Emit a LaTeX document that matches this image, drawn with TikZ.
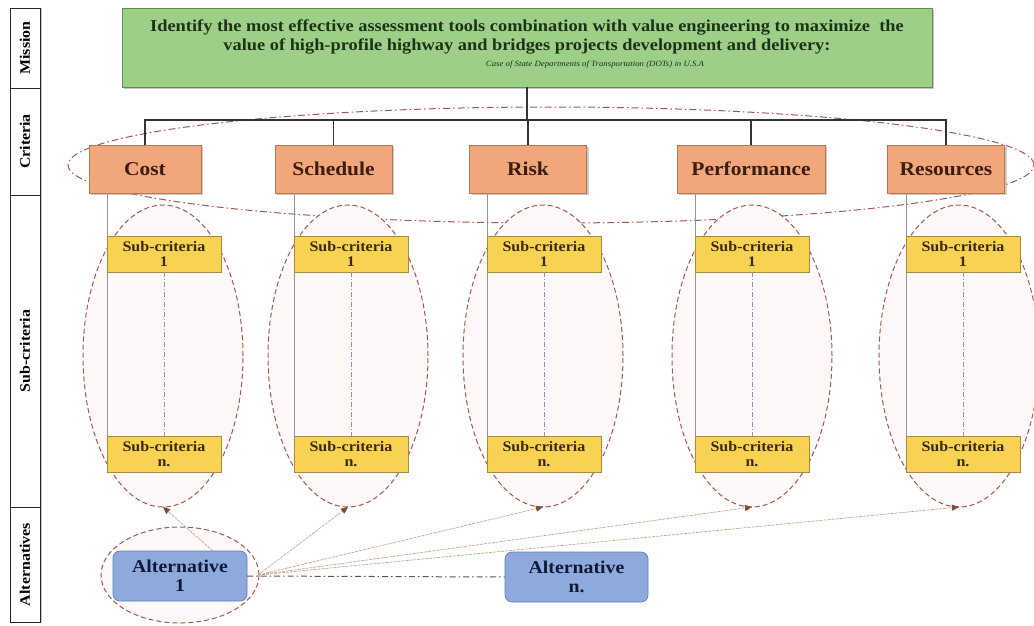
\documentclass[tikz,border=0pt]{standalone}
\usepackage{fontspec}
\setmainfont{Liberation Serif}[FakeStretch=1.1]
\usetikzlibrary{shadows,arrows.meta,shapes.geometric}

\definecolor{missionfill}{HTML}{9DCF89}
\definecolor{missionedge}{HTML}{5F8F4B}
\definecolor{missiontext}{HTML}{1C3314}
\definecolor{critfill}{HTML}{F2A67B}
\definecolor{critedge}{HTML}{B7774F}
\definecolor{crittext}{HTML}{3A1E10}
\definecolor{subfill}{HTML}{F8D353}
\definecolor{subedge}{HTML}{A88B3C}
\definecolor{subtext}{HTML}{3A2A05}
\definecolor{altfill}{HTML}{8EAADC}
\definecolor{altedge}{HTML}{5E7FB5}
\definecolor{alttext}{HTML}{0E1A38}
\definecolor{ringcol}{HTML}{A5574C}
\definecolor{ringfill}{HTML}{FFF8F8}
\definecolor{guidecol}{HTML}{8C94AA}
\definecolor{linkcol}{HTML}{C9A58E}
\definecolor{tipcol}{HTML}{7A4A32}

\begin{document}
\begin{tikzpicture}[x=1pt,y=-1pt,
  every node/.style={inner sep=0pt,outer sep=0pt},
  bandbox/.style={draw=black!85,line width=0.7pt,minimum width=30pt,fill=white,
    drop shadow={shadow xshift=1.5pt,shadow yshift=0pt,fill=black!45}},
  bandtext/.style={rotate=90,font=\fontsize{14.5}{16}\selectfont\bfseries},
  missionbox/.style={draw=missionedge,line width=0.8pt,fill=missionfill,
    minimum width=810pt,minimum height=79pt,
    drop shadow={shadow xshift=2pt,shadow yshift=-2pt,fill=black!45}},
  missionline/.style={anchor=base,text=missiontext,font=\fontsize{16.7}{18}\selectfont\bfseries},
  crit/.style={draw=critedge,line width=0.7pt,fill=critfill,minimum height=48pt,
    text=crittext,font=\fontsize{19.5}{22}\selectfont\bfseries,
    drop shadow={shadow xshift=2pt,shadow yshift=-2pt,fill=black!40}},
  sub/.style={draw=subedge,line width=0.6pt,fill=subfill,minimum width=114pt,
    minimum height=36pt,align=center,text=subtext,
    font=\fontsize{14.6}{15.5}\selectfont\bfseries,
    drop shadow={shadow xshift=1pt,shadow yshift=-1pt,fill=black!30}},
  alt/.style={draw=altedge,line width=0.7pt,fill=altfill,rounded corners=7pt,
    minimum height=50pt,align=center,text=alttext,
    font=\fontsize{18}{19}\selectfont\bfseries},
  group/.style={ellipse,draw=ringcol,line width=1pt,dash pattern=on 5pt off 3pt,
    fill=ringfill,minimum width=160pt,minimum height=302pt},
  critring/.style={ellipse,draw=ringcol,line width=1pt,
    dash pattern=on 7pt off 3pt on 1.5pt off 3pt,
    minimum width=966pt,minimum height=116pt},
  altring/.style={ellipse,draw=ringcol,line width=1pt,dash pattern=on 5pt off 3pt,
    fill=ringfill,minimum width=158pt,minimum height=96pt},
  tree/.style={draw=black!80,line width=1.2pt},
  guide/.style={draw=guidecol,line width=0.6pt},
  spine/.style={draw=guidecol,line width=1pt,dash pattern=on 5pt off 2pt on 1pt off 2pt},
  link/.style={draw=linkcol,line width=0.7pt,dash pattern=on 3pt off 1pt,
    -{Triangle[length=7pt,width=6pt,color=tipcol]}},
  altlink/.style={draw=black!45!violet!40!gray,line width=1pt,
    dash pattern=on 6pt off 3pt on 1.5pt off 3pt}
]
\useasboundingbox (0,0) rectangle (1034,625);

% level band on the left
\node[bandbox,minimum height=80pt]  (bm) at (25,48)    {};
\node[bandbox,minimum height=107pt] (bc) at (25,141.5) {};
\node[bandbox,minimum height=312pt] (bs) at (25,351)   {};
\node[bandbox,minimum height=115pt] (ba) at (25,564.5) {};
\node[bandtext] (bmt) at (bm) {Mission};
\node[bandtext] (bct) at (bc) {Criteria};
\node[bandtext] (bst) at (bs) {Sub-criteria};
\node[bandtext] (bat) at (ba) {Alternatives};

% mission
\node[missionbox] (mission) at (527,47.5) {};
\node[missionline] (mt1) at (527,31) {Identify the most effective assessment tools combination with value engineering to maximize\ \ the};
\node[missionline] (mt2) at (527,50) {value of high-profile highway and bridges projects development and delivery:};
\node[anchor=base,text=missiontext,font=\fontsize{8}{10}\selectfont\itshape] (mt3) at (595,66) {Case of State Departments of Transportation (DOTs) in U.S.A};

% ring round the criteria
\node[critring] (cring) at (551,165) {};

% criteria
\node[crit,minimum width=112pt] (cost)  at (145,169)   {Cost};
\node[crit,minimum width=117pt] (sched) at (333.5,169) {Schedule};
\node[crit,minimum width=117pt] (risk)  at (528,169)   {Risk};
\node[crit,minimum width=148pt] (perf)  at (751,169)   {Performance};
\node[crit,minimum width=117pt] (res)   at (946,169)   {Resources};

% tree from the mission to the criteria
\coordinate (hub) at (527,120);
\draw[tree] (mission.south) -- (hub);
\foreach \n in {cost,sched,risk,perf,res}
  \draw[tree] (\n.north) |- (hub);

% sub-criteria groups
\foreach \n/\ex in {cost/163,sched/348,risk/543,perf/752,res/959}
  \node[group] (g\n) at (\ex,356) {};
\foreach \n/\sx in {cost/164,sched/351,risk/544,perf/752,res/963}{
  \coordinate (top\n) at (\sx-57,193);
  \draw[guide] (top\n) -- (\sx-57,436);
  \node[sub] (s1\n) at (\sx,254) {Sub-criteria\\1};
  \node[sub] (sn\n) at (\sx,454) {Sub-criteria\\n.};
  \draw[spine] (s1\n.south) -- (sn\n.north);
}

% alternatives
\node[altring] (aring) at (180,575) {};
\coordinate (fan) at (258,575);
\coordinate (a1top) at (213,551);
\draw[link] (a1top) -- (gcost.south);
\foreach \n in {sched,risk,perf,res}
  \draw[link] (fan) -- (g\n.south);
\node[alt,minimum width=134pt] (alt1) at (180,576)   {Alternative\\1};
\node[alt,minimum width=143pt] (altn) at (576.5,577) {Alternative\\n.};
\draw[altlink] (alt1.east) -- (altn.west);
\end{tikzpicture}
\end{document}
